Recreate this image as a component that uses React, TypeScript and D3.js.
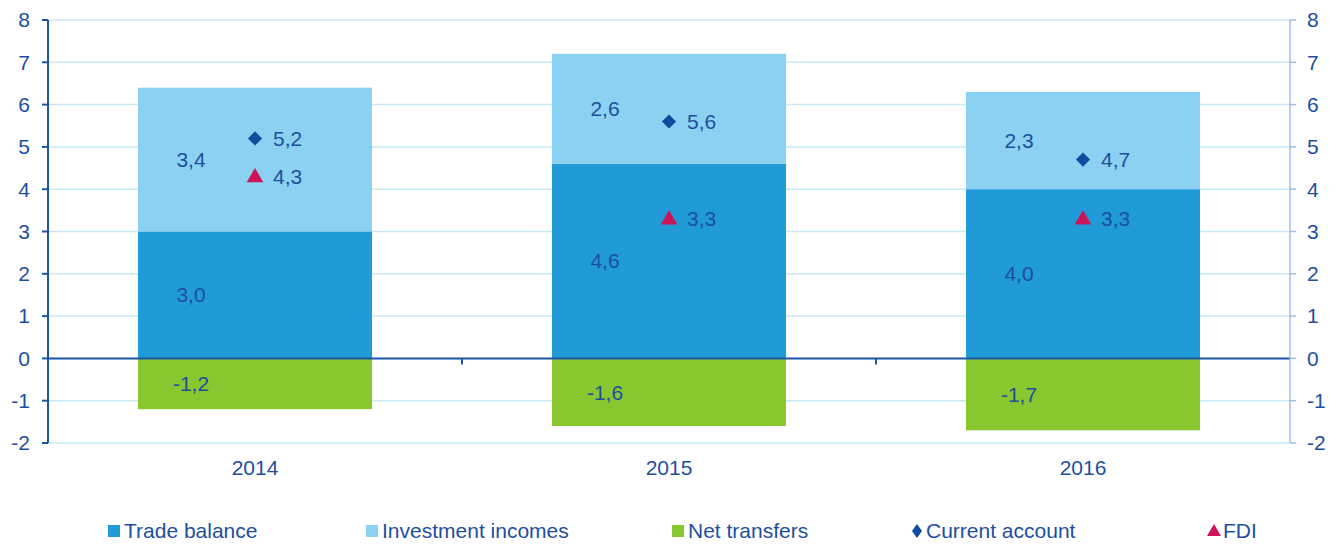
import React from "react";
import * as d3 from "d3";

const categories = ["2014", "2015", "2016"];
const tradeBalance = [3.0, 4.6, 4.0];
const investmentIncomes = [3.4, 2.6, 2.3];
const netTransfers = [-1.2, -1.6, -1.7];
const currentAccount = [5.2, 5.6, 4.7];
const fdi = [4.3, 3.3, 3.3];
const yTicks = [-2, -1, 0, 1, 2, 3, 4, 5, 6, 7, 8];

const W = 1340, H = 546;
const left = 48, right = 1290, top = 20, bottom = 443;
const TEXT = "#1d4f9f";
const FONT = "Liberation Sans, Arial, sans-serif";
const C_TRADE = "#209bd7";
const C_INV = "#8ad1f2";
const C_NET = "#88c72f";
const C_CA = "#0d4c9e";
const C_FDI = "#cc1559";
const FS = 21;

const fmt = (v: number) => v.toFixed(1).replace(".", ",");

export default function App() {
  const x = d3.scaleBand<string>().domain(categories).range([left, right]);
  const y = d3.scaleLinear().domain([-2, 8]).range([bottom, top]);
  const barW = 234;
  const diamond = d3.symbol().type(d3.symbolSquare).size(100)() as string;
  const tri = d3.symbol().type(d3.symbolTriangle).size(120)() as string;
  const legendTri = d3.symbol().type(d3.symbolTriangle).size(85)() as string;

  const legend = [
    { label: "Trade balance", x: 108, kind: "rect", color: C_TRADE },
    { label: "Investment incomes", x: 366, kind: "rect", color: C_INV },
    { label: "Net transfers", x: 672, kind: "rect", color: C_NET },
    { label: "Current account", x: 910, kind: "diamond", color: C_CA },
    { label: "FDI", x: 1207, kind: "tri", color: C_FDI },
  ];

  return (
    <svg width={W} height={H} style={{ position: "absolute", left: 0, top: 0, fontFamily: FONT }}>
      {yTicks.map((t) => (
        <line key={"g" + t} x1={left} x2={right} y1={y(t)} y2={y(t)} stroke="#c9e9f7" strokeWidth={1.5} />
      ))}
      {categories.map((c, i) => {
        const cx = x(c)! + x.bandwidth() / 2;
        const x0 = cx - barW / 2;
        const tb = tradeBalance[i], inv = investmentIncomes[i], nt = netTransfers[i];
        return (
          <g key={c}>
            <rect x={x0} width={barW} y={y(tb)} height={y(0) - y(tb)} fill={C_TRADE} />
            <rect x={x0} width={barW} y={y(tb + inv)} height={y(tb) - y(tb + inv)} fill={C_INV} />
            <rect x={x0} width={barW} y={y(0)} height={y(nt) - y(0)} fill={C_NET} />
            <text x={cx - 64} y={(y(0) + y(tb)) / 2} dy="0.35em" textAnchor="middle" fontSize={FS} fill={TEXT}>{fmt(tb)}</text>
            <text x={cx - 64} y={(y(tb) + y(tb + inv)) / 2} dy="0.35em" textAnchor="middle" fontSize={FS} fill={TEXT}>{fmt(inv)}</text>
            <text x={cx - 64} y={(y(0) + y(nt)) / 2} dy="0.35em" textAnchor="middle" fontSize={FS} fill={TEXT}>{fmt(nt)}</text>
          </g>
        );
      })}
      <line x1={left} x2={right} y1={y(0)} y2={y(0)} stroke="#1d55a6" strokeWidth={2} />
      {categories.slice(1).map((c) => (
        <line key={"ct" + c} x1={x(c)!} x2={x(c)!} y1={y(0)} y2={y(0) + 6} stroke="#1d55a6" strokeWidth={2} />
      ))}
      {categories.map((c, i) => {
        const cx = x(c)! + x.bandwidth() / 2;
        return (
          <g key={"m" + c}>
            <path d={diamond} transform={`translate(${cx},${y(currentAccount[i])}) rotate(45)`} fill={C_CA} />
            <text x={cx + 18} y={y(currentAccount[i])} dy="0.35em" fontSize={FS} fill={TEXT}>{fmt(currentAccount[i])}</text>
            <path d={tri} transform={`translate(${cx},${y(fdi[i]) + 1})`} fill={C_FDI} />
            <text x={cx + 18} y={y(fdi[i])} dy="0.35em" fontSize={FS} fill={TEXT}>{fmt(fdi[i])}</text>
          </g>
        );
      })}
      <line x1={left} x2={left} y1={top} y2={bottom} stroke="#1d55a6" strokeWidth={2} />
      {yTicks.map((t) => (
        <g key={"l" + t}>
          <line x1={left - 6} x2={left} y1={y(t)} y2={y(t)} stroke="#1d55a6" strokeWidth={2} />
          <text x={30} y={y(t)} dy="0.35em" textAnchor="end" fontSize={FS} fill={TEXT}>{t}</text>
        </g>
      ))}
      <line x1={right} x2={right} y1={top} y2={bottom} stroke="#a5bce0" strokeWidth={1.5} />
      {yTicks.map((t) => (
        <g key={"r" + t}>
          <line x1={right} x2={right + 6} y1={y(t)} y2={y(t)} stroke="#a5bce0" strokeWidth={1.5} />
          <text x={1307} y={y(t)} dy="0.35em" textAnchor="start" fontSize={FS} fill={TEXT}>{t}</text>
        </g>
      ))}
      {categories.map((c) => (
        <text key={"cl" + c} x={x(c)! + x.bandwidth() / 2} y={468} dy="0.35em" textAnchor="middle" fontSize={FS} fill={TEXT}>{c}</text>
      ))}
      {legend.map((l) => (
        <g key={l.label}>
          {l.kind === "rect" && <rect x={l.x} y={525} width={12} height={12} fill={l.color} />}
          {l.kind === "diamond" && (
            <path d="M0,-7L5,0L0,7L-5,0Z" transform={`translate(${l.x + 7},531)`} fill={l.color} />
          )}
          {l.kind === "tri" && <path d={legendTri} transform={`translate(${l.x + 7},532)`} fill={l.color} />}
          <text x={l.x + 16} y={531} dy="0.35em" fontSize={FS} fill={TEXT}>{l.label}</text>
        </g>
      ))}
    </svg>
  );
}
